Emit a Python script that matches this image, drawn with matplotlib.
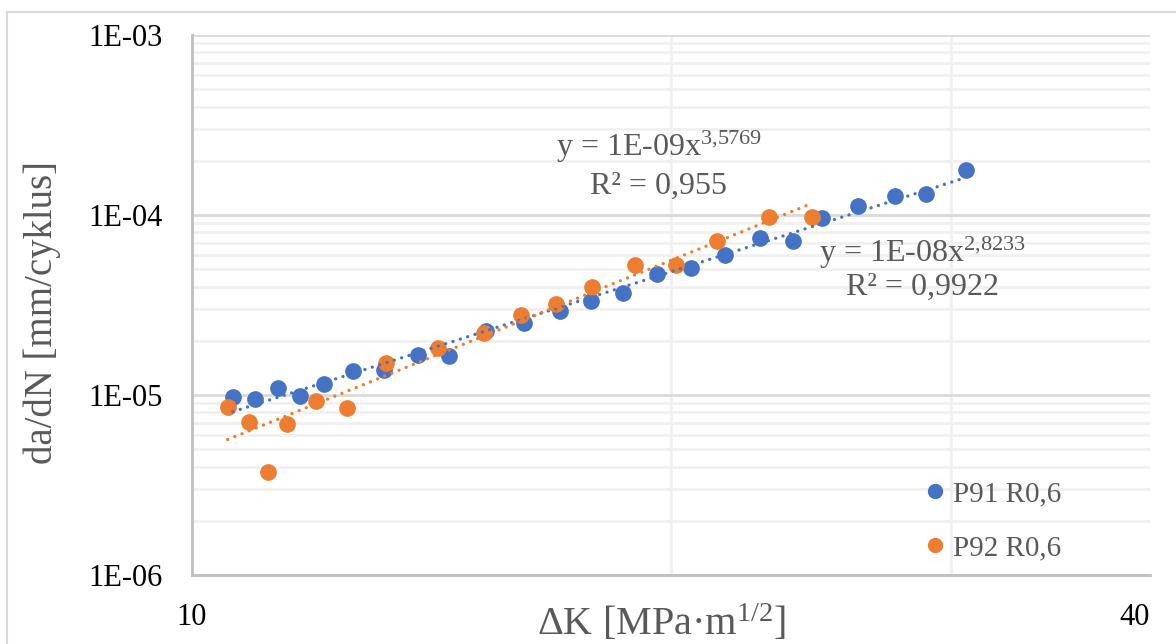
"""Crack growth rate da/dN vs. stress intensity range, P91/P92 at R=0.6"""

import numpy as np
from matplotlib import pyplot as plt
from matplotlib.lines import Line2D

W, H = 1176, 644

# P91 R0,6
p91_dk = [10.61, 10.96, 11.32, 11.69, 12.11, 12.62, 13.20, 13.87, 14.50, 15.30, 16.17, 17.03,
          17.81, 18.66, 19.60, 20.59, 21.63, 22.75, 23.87, 24.89, 26.22, 27.66, 28.93, 30.65]
p91_rate = [9.75e-6, 9.50e-6, 1.094e-5, 9.87e-6, 1.151e-5, 1.359e-5, 1.377e-5, 1.668e-5, 1.65e-5,
            2.27e-5, 2.51e-5, 2.93e-5, 3.33e-5, 3.69e-5, 4.70e-5, 5.08e-5, 6.00e-5, 7.45e-5,
            7.17e-5, 9.62e-5, 1.122e-4, 1.276e-4, 1.308e-4, 1.778e-4]

# P92 R0,6
p92_dk = [10.53, 10.86, 11.16, 11.47, 11.97, 12.51, 13.24, 14.28, 15.26, 16.10, 16.94, 17.84,
          18.98, 20.15, 21.38, 23.05, 24.53]
p92_rate = [8.58e-6, 7.08e-6, 3.74e-6, 6.90e-6, 9.26e-6, 8.47e-6, 1.506e-5, 1.824e-5, 2.21e-5,
            2.78e-5, 3.20e-5, 3.98e-5, 5.28e-5, 5.28e-5, 7.17e-5, 9.75e-5, 9.75e-5]

series_labels = ['P91 R0,6', 'P92 R0,6']
x_ticks = [10, 40]
y_ticks = [1e-6, 1e-5, 1e-4, 1e-3]
y_tick_labels = ['1E-06', '1E-05', '1E-04', '1E-03']
p91_eq = ['y = 1E-08x$^{2{,}8233}$', 'R² = 0,9922']
p92_eq = ['y = 1E-09x$^{3{,}5769}$', 'R² = 0,955']

BLUE = '#4472C4'
ORANGE = '#ED7D31'
GRAY = '#595959'

plt.rcParams['font.family'] = ['Liberation Serif', 'DejaVu Serif']
plt.rcParams['mathtext.fontset'] = 'custom'
plt.rcParams['mathtext.rm'] = 'Liberation Serif'
plt.rcParams['mathtext.it'] = 'Liberation Serif'


def power_trend(x, y):
    """Excel style power trendline: linear fit in log-log space"""
    b, a = np.polyfit(np.log(x), np.log(y), 1)
    xs = np.geomspace(min(x), max(x), 60)
    return xs, np.exp(a) * xs ** b


def px(x, y):
    """Figure fraction from image pixel coordinates"""
    return x / W, 1 - y / H


fig = plt.figure(figsize=(W / 100, H / 100), dpi=100)
ax = fig.add_axes([192 / W, 1 - 575 / H, (1150 - 192) / W, (575 - 35) / H])
ax.set_xscale('log')
ax.set_yscale('log')
ax.set_xlim(10, 40)
ax.set_ylim(1e-6, 1e-3)

ax.plot(p91_dk, p91_rate, 'o', color=BLUE, ms=11, zorder=3)
ax.plot(p92_dk, p92_rate, 'o', color=ORANGE, ms=11, zorder=4)

for x, y, c in [(p91_dk, p91_rate, BLUE), (p92_dk, p92_rate, ORANGE)]:
    xs, ys = power_trend(x, y)
    ax.plot(xs, ys, color=c, lw=2.4, linestyle=(0, (0.01, 2.3)), dash_capstyle='round', zorder=5)

# axes, ticks, grid
ax.set_xticks(x_ticks)
ax.set_xticklabels([str(t) for t in x_ticks])
ax.get_xticklabels()[-1].set_horizontalalignment('right')
ax.set_xticks([20, 30, 40], minor=True)
ax.set_xticklabels([], minor=True)
ax.set_yticks(y_ticks)
ax.set_yticklabels(y_tick_labels)
ax.tick_params(which='both', length=0)
ax.tick_params(axis='y', labelsize=22, pad=21, colors='black')
ax.tick_params(axis='x', labelsize=22, pad=20, colors='black')
ax.grid(axis='y', which='major', color='#D9D9D9', lw=2, zorder=0)
ax.grid(axis='y', which='minor', color='#F0F0F0', lw=2, zorder=0)
ax.grid(axis='x', which='minor', color='#F0F0F0', lw=2, zorder=0)
ax.set_axisbelow(True)
for side in ['top', 'right']:
    ax.spines[side].set_visible(False)
for side in ['left', 'bottom']:
    ax.spines[side].set_color('#BFBFBF')
    ax.spines[side].set_linewidth(2)

# axis titles
fig.text(*px(661, 624), 'ΔK [MPa·m$^{1/2}$]', ha='center', va='center', fontsize=29, color=GRAY)
fig.text(*px(42, 312), 'da/dN [mm/cyklus]', ha='center', va='center', rotation=90,
         fontsize=28, color=GRAY)

# trendline equations
fig.text(*px(659, 147), p92_eq[0], ha='center', va='center', fontsize=23, color=GRAY)
fig.text(*px(658, 186), p92_eq[1], ha='center', va='center', fontsize=23, color=GRAY)
fig.text(*px(923, 253), p91_eq[0], ha='center', va='center', fontsize=23, color=GRAY)
fig.text(*px(923, 287), p91_eq[1], ha='center', va='center', fontsize=23, color=GRAY)

# legend
handles = [Line2D([], [], ls='none', marker='o', color=c, ms=10) for c in [BLUE, ORANGE]]
ax.legend(handles, series_labels, loc='center left', bbox_to_anchor=px(912, 521),
          bbox_transform=fig.transFigure, frameon=False, fontsize=21, labelcolor=GRAY,
          handlelength=0.6, handletextpad=0.3, labelspacing=0.95, borderpad=0)

# chart area border
fig.add_artist(Line2D([7 / W, 1], [1 - 12 / H] * 2, color='#D9D9D9', lw=1.5))
fig.add_artist(Line2D([7 / W] * 2, [0, 1 - 12 / H], color='#D9D9D9', lw=1.5))

plt.savefig('out.png', dpi=100)
